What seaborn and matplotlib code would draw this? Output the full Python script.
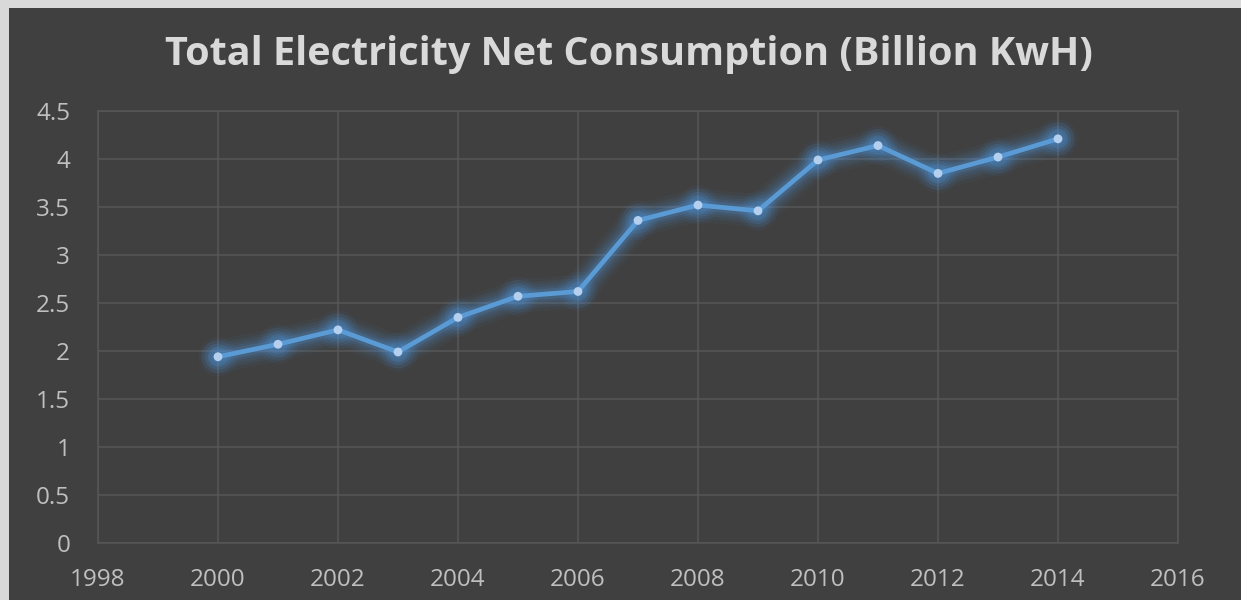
import matplotlib
matplotlib.use("Agg")
import matplotlib.pyplot as plt
import seaborn as sns
import pandas as pd
from matplotlib.patches import Rectangle

years = [2000, 2001, 2002, 2003, 2004, 2005, 2006, 2007, 2008, 2009, 2010, 2011, 2012, 2013, 2014]
consumption = [1.94, 2.07, 2.22, 1.99, 2.35, 2.57, 2.62, 3.36, 3.52, 3.46, 3.99, 4.14, 3.85, 4.02, 4.21]
x_ticks = [1998, 2000, 2002, 2004, 2006, 2008, 2010, 2012, 2014, 2016]
y_ticks = [0, 0.5, 1, 1.5, 2, 2.5, 3, 3.5, 4, 4.5]
y_tick_labels = ["0", "0.5", "1", "1.5", "2", "2.5", "3", "3.5", "4", "4.5"]
title = "Total Electricity Net Consumption (Billion KwH)"

df = pd.DataFrame({"year": years, "value": consumption})

sns.set_theme(style="dark")
plt.rcParams["font.family"] = ["Open Sans", "DejaVu Sans"]

BG = "#404040"
GRID = "#575757"
TXT = "#bfbfbf"

fig = plt.figure(figsize=(12.41, 6.0), dpi=100)
fig.patch.set_facecolor("#d9d9d9")
bg = Rectangle((9 / 1241, 0), 1, 1 - 8 / 600, transform=fig.transFigure,
               facecolor=BG, edgecolor="none", zorder=-10)
fig.add_artist(bg)

ax = fig.add_axes([98 / 1241, 1 - 543 / 600, (1178 - 98) / 1241, (543 - 111) / 600])
ax.set_zorder(1)
ax.set_facecolor(BG)

# glow layers
GLOW = "#4f95da"
for lw, a in [(24, 0.05), (19, 0.07), (15, 0.09), (11, 0.12), (7.5, 0.18)]:
    sns.lineplot(data=df, x="year", y="value", ax=ax, color=GLOW, lw=lw, alpha=a,
                 solid_capstyle="round", solid_joinstyle="round", legend=False)
for s, a in [(800, 0.06), (560, 0.09), (360, 0.13), (200, 0.2)]:
    sns.scatterplot(data=df, x="year", y="value", ax=ax, color=GLOW, s=s, alpha=a,
                    edgecolor="none", legend=False)
sns.lineplot(data=df, x="year", y="value", ax=ax, color="#5b9bd5", lw=3.4,
             solid_joinstyle="round", legend=False)
sns.scatterplot(data=df, x="year", y="value", ax=ax, color="#b4d0ee", s=40,
                edgecolor="none", legend=False, zorder=5)

ax.set_xlim(1998, 2016)
ax.set_ylim(0, 4.5)
ax.set_xticks(x_ticks)
ax.set_xticklabels([str(t) for t in x_ticks])
ax.set_yticks(y_ticks)
ax.set_yticklabels(y_tick_labels)
ax.grid(True, color=GRID, lw=1.1)
for sp in ax.spines.values():
    sp.set_visible(True)
    sp.set_color(GRID)
    sp.set_linewidth(1.1)
ax.tick_params(axis="both", colors=TXT, labelsize=17.5, length=0)
ax.tick_params(axis="x", pad=18)
ax.tick_params(axis="y", pad=20)
ax.set_xlabel("")
ax.set_ylabel("")

fig.text(629 / 1241, 1 - 55 / 600, title, ha="center", va="center", color="#d9d9d9",
         fontsize=28.5, fontweight="bold")

fig.savefig("out.png", dpi=100, facecolor=fig.get_facecolor())
